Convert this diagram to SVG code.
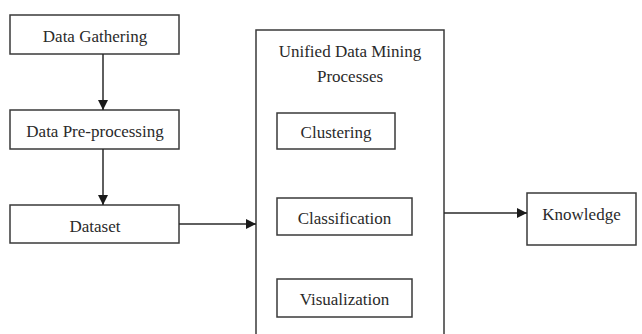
<svg xmlns="http://www.w3.org/2000/svg" width="642" height="334" viewBox="0 0 642 334">
  <defs>
    <marker id="arrow" markerWidth="10" markerHeight="10" refX="10" refY="5" orient="auto" markerUnits="userSpaceOnUse">
      <path d="M0,0 L10,5 L0,10 Z" fill="#1a1a1a"/>
    </marker>
    <style>
      .box { fill: #ffffff; stroke: #3a3a3a; stroke-width: 1.5; }
      .lbl { font-family: "Liberation Serif", "DejaVu Serif", serif; font-size: 17px; fill: #2a2a2a; text-anchor: middle; }
      .edge { stroke: #2a2a2a; stroke-width: 1.5; fill: none; marker-end: url(#arrow); }
    </style>
  </defs>
  <rect width="642" height="334" fill="#ffffff"/>

  <g id="data-gathering">
    <rect class="box" x="10" y="15" width="169" height="39"/>
    <text class="lbl" x="95" y="42">Data Gathering</text>
  </g>
  <g id="data-preprocessing">
    <rect class="box" x="10" y="110" width="169" height="39"/>
    <text class="lbl" x="95" y="137">Data Pre-processing</text>
  </g>
  <g id="dataset">
    <rect class="box" x="10" y="205" width="169" height="38"/>
    <text class="lbl" x="95" y="232">Dataset</text>
  </g>

  <g id="unified-processes">
    <rect class="box" x="256" y="30" width="188" height="310"/>
    <text class="lbl" x="350" y="57">Unified Data Mining</text>
    <text class="lbl" x="350" y="82">Processes</text>
  </g>
  <g id="clustering">
    <rect class="box" x="277" y="113" width="118" height="36"/>
    <text class="lbl" x="336" y="138">Clustering</text>
  </g>
  <g id="classification">
    <rect class="box" x="277" y="198" width="135" height="37"/>
    <text class="lbl" x="344.5" y="224">Classification</text>
  </g>
  <g id="visualization">
    <rect class="box" x="277" y="279" width="135" height="38"/>
    <text class="lbl" x="344.5" y="305">Visualization</text>
  </g>

  <g id="knowledge">
    <rect class="box" x="527" y="193" width="109" height="52"/>
    <text class="lbl" x="581.5" y="220">Knowledge</text>
  </g>

  <g id="connectors">
    <line class="edge" x1="103" y1="54" x2="103" y2="110"/>
    <line class="edge" x1="103" y1="149" x2="103" y2="205"/>
    <line class="edge" x1="179" y1="224" x2="256" y2="224"/>
    <line class="edge" x1="444" y1="213" x2="527" y2="213"/>
  </g>
</svg>
